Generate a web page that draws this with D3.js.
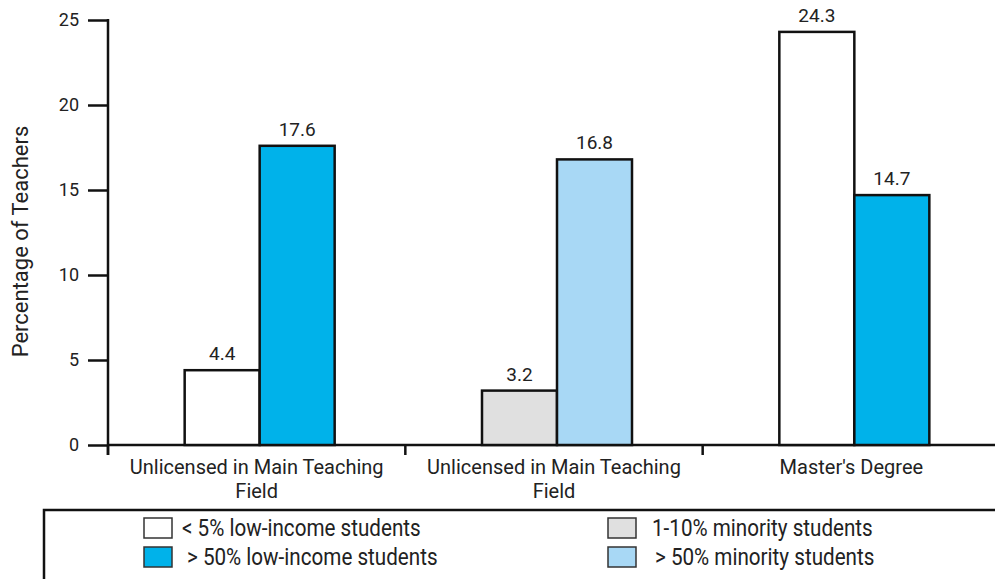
<!DOCTYPE html>
<html><head><meta charset="utf-8">
<script src="https://cdn.jsdelivr.net/npm/d3@7"></script>
<style>
html,body{margin:0;padding:0;background:#fff;}
svg{display:block;font-family:Roboto, "Liberation Sans", sans-serif;}
</style></head>
<body>
<svg id="chart" width="995" height="579"></svg>
<script>
// ---- data ----
const categories = ["Unlicensed in Main Teaching Field", "Unlicensed in Main Teaching Field", "Master's Degree"];
const categoryLines = [["Unlicensed in Main Teaching", "Field"], ["Unlicensed in Main Teaching", "Field"], ["Master's Degree"]];
const leftSeries = ["lt5low", "min1to10", "lt5low"];
const rightSeries = ["gt50low", "gt50min", "gt50low"];
const leftValues = [4.4, 3.2, 24.3];
const rightValues = [17.6, 16.8, 14.7];
const seriesKeys = ["lt5low", "gt50low", "min1to10", "gt50min"];
const seriesNames = ["< 5% low-income students", "> 50% low-income students", "1-10% minority students", "> 50% minority students"];
const seriesColors = ["#ffffff", "#00b2ea", "#e0e0e0", "#a8d8f5"];
const yTicks = [0, 5, 10, 15, 20, 25];
const yTitle = "Percentage of Teachers";

// ---- layout ----
const svg = d3.select("#chart");
const x0 = 108, x1 = 1000, yTop = 20, yBase = 445;
const color = d3.scaleOrdinal().domain(seriesKeys).range(seriesColors);
const x = d3.scaleBand().domain(d3.range(categories.length)).range([x0, x1]).paddingInner(0).paddingOuter(0);
const xs = d3.scaleBand().domain(["L", "R"]).range([0, 150]);
const y = d3.scaleLinear().domain([0, 25]).range([yBase, yTop]);

// x axis baseline
svg.append("line").attr("x1", x0).attr("x2", 995).attr("y1", yBase).attr("y2", yBase)
  .attr("stroke", "#111").attr("stroke-width", 2.5);

// category separator ticks
const bounds = d3.range(categories.length).map(i => x(i));
svg.selectAll("line.ctick").data(bounds).join("line").attr("class", "ctick")
  .attr("x1", d => d).attr("x2", d => d).attr("y1", yBase).attr("y2", yBase + 10)
  .attr("stroke", "#111").attr("stroke-width", 2.5);

// y axis
const yAxis = d3.axisLeft(y).tickValues(yTicks).tickSize(20).tickPadding(9).tickFormat(d3.format("d"));
const gy = svg.append("g").attr("transform", `translate(${x0},0)`).call(yAxis);
gy.select(".domain").remove();
gy.selectAll(".tick line").attr("stroke", "#111").attr("stroke-width", 2.5);
gy.selectAll(".tick text").attr("font-size", 18).attr("fill", "#222").attr("font-family", "Roboto, sans-serif");
svg.append("line").attr("x1", x0).attr("x2", x0).attr("y1", yTop - 1).attr("y2", yBase + 10)
  .attr("stroke", "#111").attr("stroke-width", 2.5);

// y title
svg.append("text").attr("transform", `translate(28,${(yTop + yBase) / 2 + 9}) rotate(-90)`)
  .attr("text-anchor", "middle").attr("font-size", 22).attr("fill", "#222").text(yTitle);

// bars
const bars = [];
categories.forEach((c, i) => {
  bars.push({i, side: "L", key: leftSeries[i], v: leftValues[i]});
  bars.push({i, side: "R", key: rightSeries[i], v: rightValues[i]});
});
const gx = i => x(i) + x.bandwidth() / 2 - 75 + 3;
svg.selectAll("rect.bar").data(bars).join("rect").attr("class", "bar")
  .attr("x", d => gx(d.i) + xs(d.side))
  .attr("width", xs.bandwidth())
  .attr("y", d => y(d.v))
  .attr("height", d => y(0) - y(d.v))
  .attr("fill", d => color(d.key))
  .attr("stroke", "#111").attr("stroke-width", 2.5);

svg.selectAll("text.val").data(bars).join("text").attr("class", "val")
  .attr("x", d => gx(d.i) + xs(d.side) + xs.bandwidth() / 2)
  .attr("y", d => y(d.v) - 10)
  .attr("text-anchor", "middle").attr("font-size", 19).attr("fill", "#222")
  .text(d => d3.format(".1f")(d.v));

// category labels
const cl = svg.selectAll("g.cat").data(categoryLines).join("g").attr("class", "cat")
  .attr("transform", (d, i) => `translate(${x(i) + x.bandwidth() / 2},0)`);
cl.selectAll("text").data(d => d).join("text")
  .attr("x", 0).attr("y", (d, j) => 474 + j * 24)
  .attr("text-anchor", "middle").attr("font-size", 20).attr("fill", "#222").text(d => d);

// legend box
svg.append("rect").attr("x", 44).attr("y", 510).attr("width", 960).attr("height", 80)
  .attr("fill", "none").attr("stroke", "#111").attr("stroke-width", 2.5);

const legendPos = [
  {sx: 144, sy: 518, tx: 182},
  {sx: 144, sy: 547, tx: 187},
  {sx: 608, sy: 518, tx: 652},
  {sx: 608, sy: 547, tx: 655}
];
const lg = svg.selectAll("g.leg").data(seriesKeys).join("g").attr("class", "leg");
lg.append("rect")
  .attr("x", (d, i) => legendPos[i].sx).attr("y", (d, i) => legendPos[i].sy)
  .attr("width", 28).attr("height", 20)
  .attr("fill", d => color(d)).attr("stroke", "#333").attr("stroke-width", 1.5);
lg.append("text")
  .attr("transform", (d, i) => `translate(${legendPos[i].tx},${legendPos[i].sy + 18}) scale(0.86,1)`)
  .attr("font-size", 24).attr("fill", "#222")
  .text((d, i) => seriesNames[i]);
</script>
</body></html>
